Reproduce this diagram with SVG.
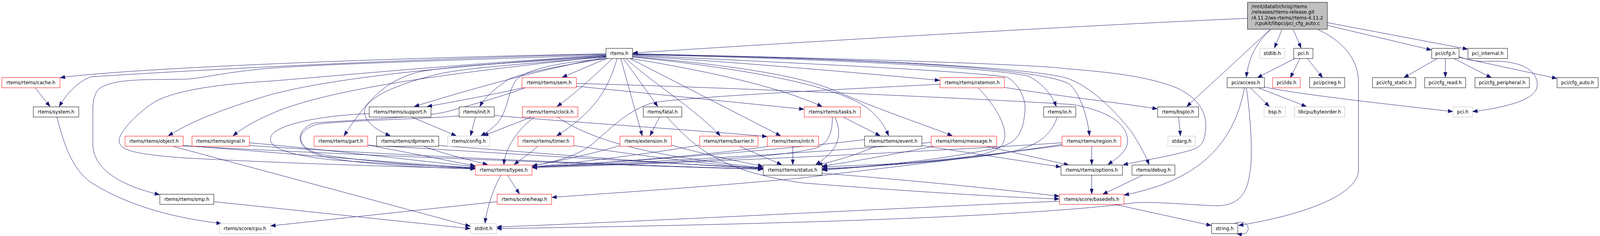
<svg xmlns="http://www.w3.org/2000/svg" width="4325" height="605" viewBox="0 0 4325 605" preserveAspectRatio="none">
<style>
svg{width:100vw;height:100vh}
.n rect{fill:#fff;stroke:#000;stroke-width:1}
.r rect{stroke:#ff0000}
.g rect{stroke:#bfbfbf}
.root rect{fill:#bfbfbf;stroke:#000}
text{font-family:"DejaVu Sans","Liberation Sans",sans-serif;font-size:12.7px;fill:#000;text-anchor:middle}
.l{text-anchor:start}
#edges path{fill:none;stroke:#191970;stroke-width:1;marker-end:url(#a)}
</style>
<defs>
<marker id="a" markerUnits="userSpaceOnUse" markerWidth="13" markerHeight="10" refX="13" refY="5" orient="auto"><path d="M0.5,0.5 L13,5 L0.5,9.5 z" fill="#191970" stroke="#191970" stroke-width="1"/></marker>
</defs>
<rect width="4325" height="605" fill="#fff"/>
<g id="edges">
<path d="M3372,47 C3000,62 2200,105 1711,136"/>
<path d="M3465,76 L3445,123"/>
<path d="M3496,76 L3517,123"/>
<path d="M3435,76 C3400,105 3375,145 3369,198"/>
<path d="M3433,76 L3208,273"/>
<path d="M3563,76 C3640,110 3672,160 3672,210 L3672,436 C3672,490 3560,545 3348,578"/>
<path d="M3588,65 L3869,128"/>
<path d="M3588,58 L3967,126"/>
<path d="M3500,150 L3399,199"/>
<path d="M3514,150 L3488,199"/>
<path d="M3534,150 L3575,199"/>
<path d="M3380,225 L3431,273"/>
<path d="M3401,225 L3531,273"/>
<path d="M3418,223 C3500,240 3700,262 3927,286"/>
<path d="M3364,225 C3330,400 3200,470 3039,500"/>
<path d="M3369,225 C3385,330 3385,420 3378,444 C3370,520 3320,530 3276,527 C3200,524 3100,515 3057,521 C2900,540 2500,570 1343,586"/>
<path d="M3336,573 C3365,563 3374,578 3374,586 C3374,596 3364,603 3344,599"/>
<path d="M3885,150 L3795,199"/>
<path d="M3907,150 L3907,198"/>
<path d="M3930,150 L4031,199"/>
<path d="M3944,147 L4208,201"/>
<path d="M3944,145 C3970,155 3990,158 4030,157 C4100,155 4160,175 4155,222 C4150,260 4050,278 3981,286"/>
<path d="M3186,300 L3191,348"/>
<path d="M3089,449 L2981,498"/>
<path d="M2951,449 L2951,497"/>
<path d="M2951,375 L2951,422"/>
<path d="M3013,524 L3274,578"/>
<path d="M2864,516 C2500,530 1800,565 1343,582"/>
<path d="M2715,224 C2850,245 3000,260 3128,279"/>
<path d="M2644,225 C2700,280 2740,350 2700,380 C2640,415 2400,420 2223,428"/>
<path d="M2541,216 C2200,232 1850,250 1766,263 C1700,280 1650,330 1600,370 C1560,400 1500,415 1439,425"/>
<path d="M2871,370 C2600,410 2300,440 2170,456 C1900,480 1650,495 1492,506"/>
<path d="M2871,373 C2700,395 2400,425 2223,436"/>
<path d="M2871,366 C2500,390 1800,420 1439,430"/>
<path d="M2858,300 C2840,350 2800,380 2700,395 C2550,415 2350,428 2223,432"/>
<path d="M2523,375 C2420,395 2300,415 2223,426"/>
<path d="M2667,375 L2889,423"/>
<path d="M2517,365 C2300,385 1800,415 1439,428"/>
<path d="M2367,375 C2320,395 2270,410 2210,423"/>
<path d="M2492,373 L2867,428"/>
<path d="M2337,358 C2100,385 1700,415 1439,428"/>
<path d="M2279,300 L2379,348"/>
<path d="M2250,300 C2250,340 2240,365 2210,378 C2100,410 1700,420 1439,428"/>
<path d="M2257,300 C2275,340 2275,380 2205,422"/>
<path d="M2143,375 L2143,422"/>
<path d="M2078,375 C1900,400 1600,420 1439,428"/>
<path d="M1999,375 L2113,422"/>
<path d="M1891,372 C1750,395 1550,418 1439,428"/>
<path d="M1815,372 C1900,395 2000,415 2062,426"/>
<path d="M1676,373 C1600,395 1500,415 1439,425"/>
<path d="M1783,300 L1757,348"/>
<path d="M1803,300 C1880,380 1950,440 2170,469 C2450,490 2700,505 2863,510"/>
<path d="M1454,375 C1430,395 1405,410 1390,422"/>
<path d="M1551,373 C1700,395 1900,420 2062,432"/>
<path d="M1437,300 L1307,348"/>
<path d="M1445,300 C1400,330 1365,380 1362,422"/>
<path d="M1507,300 C1600,360 1750,400 2062,430"/>
<path d="M1414,225 C1320,245 1220,262 1155,273"/>
<path d="M1558,221 L2173,280"/>
<path d="M1558,214 C1900,222 2600,250 2900,268 C3000,285 3050,320 3048,365 C3045,390 3020,405 2995,422"/>
<path d="M1420,225 C1350,250 1250,275 1209,286 C1150,300 1000,305 850,315 C800,330 790,380 870,400 C950,420 1150,430 1284,433"/>
<path d="M1113,300 L1233,348"/>
<path d="M998,291 C900,295 780,310 740,340 C700,380 800,400 900,410 C1050,420 1200,428 1284,430"/>
<path d="M1285,300 L1272,348"/>
<path d="M1241,297 C1150,305 950,308 860,318 C790,335 800,385 880,398 C1000,415 1180,428 1284,431"/>
<path d="M1336,296 C1500,310 1900,335 2073,350"/>
<path d="M1146,375 C1200,395 1270,410 1318,422"/>
<path d="M1186,373 C1500,395 1800,420 2062,432"/>
<path d="M994,372 C1100,390 1200,410 1284,425"/>
<path d="M994,372 C1400,395 1800,420 2062,430"/>
<path d="M495,373 C800,395 1100,420 1284,430"/>
<path d="M495,374 C1000,400 1700,425 2062,434"/>
<path d="M467,375 L1271,580"/>
<path d="M674,366 C900,385 1150,415 1284,427"/>
<path d="M674,373 C1100,400 1700,425 2062,433"/>
<path d="M578,517 L1271,586"/>
<path d="M1372,449 L1404,497"/>
<path d="M1354,449 C1330,490 1315,540 1311,572"/>
<path d="M1344,517 L732,579"/>
<path d="M2222,444 C2500,465 2750,490 2863,503"/>
<path d="M95,225 L135,273"/>
<path d="M154,300 C175,380 200,440 250,470 C350,530 480,560 598,573"/>
<path d="M1638,138 C1200,145 400,170 163,199"/>
<path d="M1638,139 C1200,148 600,175 245,197 C210,210 180,240 160,273"/>
<path d="M1638,141 C1300,152 900,163 730,175 C600,185 530,205 489,203 C400,205 300,200 265,230 C250,250 251,270 251,300 L251,370 C251,420 300,470 431,499"/>
<path d="M1638,142 C1300,160 900,195 730,208 C600,215 480,230 420,260 C370,290 320,340 322,362 C325,385 360,395 500,405 C800,420 1100,428 1284,432"/>
<path d="M1638,143 C1200,170 900,200 730,243 C600,280 520,310 455,348"/>
<path d="M1638,144 C1300,180 900,220 730,293 C690,310 660,325 630,348"/>
<path d="M1638,145 C1400,160 1200,170 1130,185 C1050,205 1000,245 930,348"/>
<path d="M1638,146 C1400,165 1250,175 1185,190 C1050,220 980,260 985,290 C990,315 1020,335 1055,348"/>
<path d="M1638,147 C1500,170 1300,220 1120,273"/>
<path d="M1640,150 C1500,170 1400,190 1372,205 C1340,225 1310,250 1297,273"/>
<path d="M1642,150 C1500,160 1420,180 1395,205 C1370,240 1375,280 1345,315 C1330,330 1315,340 1300,348"/>
<path d="M1640,150 L1520,198"/>
<path d="M1656,150 C1600,200 1560,235 1506,273"/>
<path d="M1668,150 C1650,210 1620,280 1505,348"/>
<path d="M1678,150 L1736,348"/>
<path d="M1685,150 L1778,273"/>
<path d="M1692,150 C1760,210 1880,280 1947,348"/>
<path d="M1703,150 L2110,348"/>
<path d="M1710,141 C2100,160 2600,180 2723,198 C2760,220 2775,260 2770,290 C2765,340 2750,365 2700,378 C2550,410 2350,428 2223,434"/>
<path d="M1705,150 C1900,180 2100,220 2222,273"/>
<path d="M1710,146 C1950,170 2250,210 2346,278 C2375,300 2390,320 2402,348"/>
<path d="M1710,145 C1950,165 2150,190 2250,230 C2400,290 2500,320 2574,348"/>
<path d="M1710,143 C2000,160 2300,185 2540,206"/>
<path d="M1710,140 C2200,150 2650,170 2780,195 C2820,215 2845,245 2855,273"/>
<path d="M1710,139 C2300,150 2800,170 2890,215 C2920,240 2940,300 2945,348"/>
<path d="M1710,138 C2300,150 2800,165 2880,176 C3000,185 3100,195 3180,225 C3250,255 3262,300 3259,330 C3256,370 3245,380 3200,390 C3140,405 3080,412 3036,423"/>
<path d="M1710,138 C2300,150 2750,170 2880,199 C2950,220 3020,290 3060,340 C3080,370 3095,395 3106,422"/>
</g>
<g id="root" class="n root"><rect x="3372" y="6" width="216" height="69"/><text class="l" x="3383" y="21">/mnt/data0/chrisj/rtems</text><text class="l" x="3383" y="35.5">/releases/rtems-release.git</text><text class="l" x="3383" y="50">/4.11.2/ws-rtems/rtems-4.11.2</text><text x="3480" y="64.5">/cpukit/libpci/pci_cfg_auto.c</text></g>
<g id="rtems_h" class="n"><rect x="1638" y="124" width="72" height="26"/><text x="1674" y="141.5">rtems.h</text></g>
<g id="stdlib_h" class="n g"><rect x="3405" y="124" width="68" height="26"/><text x="3439" y="141.5">stdlib.h</text></g>
<g id="pci_h" class="n"><rect x="3497" y="124" width="52" height="26"/><text x="3523" y="141.5">pci.h</text></g>
<g id="pci_cfg_h" class="n"><rect x="3870" y="124" width="74" height="26"/><text x="3907" y="141.5">pci/cfg.h</text></g>
<g id="pci_internal_h" class="n"><rect x="3968" y="124" width="107" height="26"/><text x="4021.5" y="141.5">pci_internal.h</text></g>
<g id="cache_h" class="n r"><rect x="5" y="199" width="157" height="26"/><text x="83.5" y="216.5">rtems/rtems/cache.h</text></g>
<g id="sem_h" class="n r"><rect x="1411" y="199" width="147" height="26"/><text x="1484.5" y="216.5">rtems/rtems/sem.h</text></g>
<g id="ratemon_h" class="n r"><rect x="2541" y="199" width="174" height="26"/><text x="2628" y="216.5">rtems/rtems/ratemon.h</text></g>
<g id="pci_access_h" class="n"><rect x="3317" y="199" width="101" height="26"/><text x="3367.5" y="216.5">pci/access.h</text></g>
<g id="pci_ids_h" class="n r"><rect x="3440" y="199" width="75" height="26"/><text x="3477.5" y="216.5">pci/ids.h</text></g>
<g id="pci_pcireg_h" class="n"><rect x="3540" y="199" width="95" height="26"/><text x="3587.5" y="216.5">pci/pcireg.h</text></g>
<g id="pci_cfg_static_h" class="n"><rect x="3710" y="199" width="117" height="26"/><text x="3768.5" y="216.5">pci/cfg_static.h</text></g>
<g id="pci_cfg_read_h" class="n"><rect x="3851" y="199" width="111" height="26"/><text x="3906.5" y="216.5">pci/cfg_read.h</text></g>
<g id="pci_cfg_peripheral_h" class="n"><rect x="3987" y="199" width="147" height="26"/><text x="4060.5" y="216.5">pci/cfg_peripheral.h</text></g>
<g id="pci_cfg_auto_h" class="n"><rect x="4209" y="199" width="111" height="26"/><text x="4264.5" y="216.5">pci/cfg_auto.h</text></g>
<g id="system_h" class="n"><rect x="90" y="274" width="123" height="26"/><text x="151.5" y="291.5">rtems/system.h</text></g>
<g id="support_h" class="n"><rect x="998" y="274" width="167" height="26"/><text x="1081.5" y="291.5">rtems/rtems/support.h</text></g>
<g id="init_h" class="n"><rect x="1241" y="274" width="95" height="26"/><text x="1288.5" y="291.5">rtems/init.h</text></g>
<g id="clock_h" class="n r"><rect x="1412" y="274" width="150" height="26"/><text x="1487" y="291.5">rtems/rtems/clock.h</text></g>
<g id="fatal_h" class="n"><rect x="1739" y="274" width="104" height="26"/><text x="1791" y="291.5">rtems/fatal.h</text></g>
<g id="tasks_h" class="n r"><rect x="2174" y="274" width="152" height="26"/><text x="2250" y="291.5">rtems/rtems/tasks.h</text></g>
<g id="io_h" class="n"><rect x="2821" y="274" width="87" height="26"/><text x="2864.5" y="291.5">rtems/io.h</text></g>
<g id="bspIo_h" class="n"><rect x="3129" y="274" width="111" height="26"/><text x="3184.5" y="291.5">rtems/bspIo.h</text></g>
<g id="bsp_h" class="n g"><rect x="3417" y="274" width="58" height="26"/><text x="3446" y="291.5">bsp.h</text></g>
<g id="byteorder_h" class="n g"><rect x="3499" y="274" width="136" height="26"/><text x="3567" y="291.5">libcpu/byteorder.h</text></g>
<g id="pci_h_ext" class="n g"><rect x="3928" y="274" width="52" height="26"/><text x="3954" y="291.5">pci.h</text></g>
<g id="object_h" class="n r"><rect x="338" y="349" width="157" height="26"/><text x="416.5" y="366.5">rtems/rtems/object.h</text></g>
<g id="signal_h" class="n r"><rect x="519" y="349" width="155" height="26"/><text x="596.5" y="366.5">rtems/rtems/signal.h</text></g>
<g id="part_h" class="n r"><rect x="849" y="349" width="145" height="26"/><text x="921.5" y="366.5">rtems/rtems/part.h</text></g>
<g id="dpmem_h" class="n"><rect x="1018" y="349" width="168" height="26"/><text x="1102" y="366.5">rtems/rtems/dpmem.h</text></g>
<g id="config_h" class="n g"><rect x="1210" y="349" width="114" height="26"/><text x="1267" y="366.5">rtems/config.h</text></g>
<g id="timer_h" class="n r"><rect x="1400" y="349" width="151" height="26"/><text x="1475.5" y="366.5">rtems/rtems/timer.h</text></g>
<g id="extension_h" class="n r"><rect x="1676" y="349" width="139" height="26"/><text x="1745.5" y="366.5">rtems/extension.h</text></g>
<g id="barrier_h" class="n r"><rect x="1891" y="349" width="158" height="26"/><text x="1970" y="366.5">rtems/rtems/barrier.h</text></g>
<g id="intr_h" class="n r"><rect x="2074" y="349" width="139" height="26"/><text x="2143.5" y="366.5">rtems/rtems/intr.h</text></g>
<g id="event_h" class="n"><rect x="2337" y="349" width="155" height="26"/><text x="2414.5" y="366.5">rtems/rtems/event.h</text></g>
<g id="message_h" class="n r"><rect x="2517" y="349" width="177" height="26"/><text x="2605.5" y="366.5">rtems/rtems/message.h</text></g>
<g id="region_h" class="n r"><rect x="2871" y="349" width="159" height="26"/><text x="2950.5" y="366.5">rtems/rtems/region.h</text></g>
<g id="stdarg_h" class="n g"><rect x="3157" y="349" width="74" height="26"/><text x="3194" y="366.5">stdarg.h</text></g>
<g id="types_h" class="n r"><rect x="1285" y="423" width="153" height="26"/><text x="1361.5" y="440.5">rtems/rtems/types.h</text></g>
<g id="status_h" class="n"><rect x="2063" y="423" width="159" height="26"/><text x="2142.5" y="440.5">rtems/rtems/status.h</text></g>
<g id="options_h" class="n"><rect x="2868" y="423" width="166" height="26"/><text x="2951" y="440.5">rtems/rtems/options.h</text></g>
<g id="debug_h" class="n"><rect x="3060" y="423" width="116" height="26"/><text x="3118" y="440.5">rtems/debug.h</text></g>
<g id="smp_h" class="n"><rect x="432" y="498" width="146" height="26"/><text x="505" y="515.5">rtems/rtems/smp.h</text></g>
<g id="heap_h" class="n r"><rect x="1344" y="498" width="147" height="26"/><text x="1417.5" y="515.5">rtems/score/heap.h</text></g>
<g id="basedefs_h" class="n r"><rect x="2864" y="498" width="174" height="26"/><text x="2951" y="515.5">rtems/score/basedefs.h</text></g>
<g id="cpu_h" class="n g"><rect x="593" y="573" width="138" height="26"/><text x="662" y="590.5">rtems/score/cpu.h</text></g>
<g id="stdint_h" class="n g"><rect x="1272" y="573" width="70" height="26"/><text x="1307" y="590.5">stdint.h</text></g>
<g id="string_h" class="n"><rect x="3275" y="573" width="71" height="26"/><text x="3310.5" y="590.5">string.h</text></g>
</svg>
